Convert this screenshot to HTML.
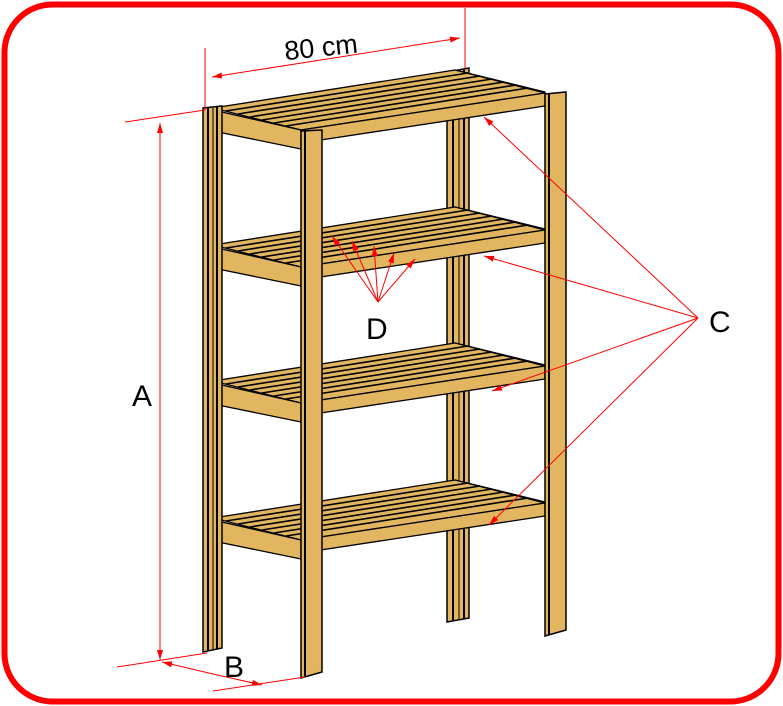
<!DOCTYPE html>
<html><head><meta charset="utf-8"><style>
html,body{margin:0;padding:0;background:#fff;width:783px;height:706px;overflow:hidden}
svg{display:block}
text{font-family:"Liberation Sans",Arial,sans-serif;fill:#000}
</style></head><body>
<svg width="783" height="706" viewBox="0 0 783 706" xmlns="http://www.w3.org/2000/svg">
<defs>
<marker id="ar" viewBox="0 0 10 6" refX="10" refY="3" markerWidth="12" markerHeight="6" orient="auto" markerUnits="userSpaceOnUse">
<path d="M0,0 L10,3 L0,6 z" fill="#f00"/></marker>
<g id="shelf" stroke="#000" stroke-width="1.3" stroke-linejoin="round">
  <polygon points="455,70 545,92 545,106 455,84" fill="#E2B660"/>
  <polygon points="213,108 455,70 545,93 301,130" fill="#E2B660"/>
  <g stroke-width="1.6">
    <line x1="226" y1="111" x2="468" y2="73"/>
    <line x1="238" y1="114" x2="480" y2="76"/>
    <line x1="250" y1="117" x2="492" y2="79"/>
    <line x1="262" y1="120" x2="504" y2="82"/>
    <line x1="274" y1="123" x2="516" y2="85"/>
    <line x1="286" y1="126" x2="528" y2="88"/>
  </g>
  <polygon points="301,130 545,93 545,106 301,143" fill="#E2B660"/>
  <polygon points="213,110 301,130 301,149 213,131" fill="#E2B660"/>
</g>
</defs>

<g stroke="#000" stroke-width="1.5" fill="#E2B660">
  <polygon points="447,72 469,68 469,618 447,622"/>
  <line x1="453" y1="72" x2="453" y2="620" stroke-width="2"/>
  <line x1="459" y1="71" x2="459" y2="620" stroke-width="1"/>
  <line x1="464" y1="70" x2="464" y2="619" stroke-width="2"/>
</g>

<use href="#shelf"/>
<use href="#shelf" transform="translate(0,137)"/>
<use href="#shelf" transform="translate(0,273)"/>
<use href="#shelf" transform="translate(0,410)"/>

<g stroke="#000" stroke-width="1.5" fill="#E2B660">
  <polygon points="203,108 222,106 222,648 203,652"/>
  <line x1="208" y1="108" x2="208" y2="650" stroke-width="2"/>
  <line x1="213" y1="108" x2="213" y2="650" stroke-width="1"/>
  <line x1="217" y1="107" x2="217" y2="649" stroke-width="2"/>
  <polygon points="301,131 322,130 322,672 301,678"/>
  <line x1="305" y1="131" x2="305" y2="677" stroke-width="2"/>
  <polygon points="545,94 566,92 566,630 545,636"/>
  <line x1="549" y1="94" x2="549" y2="635" stroke-width="2"/>
</g>

<g stroke="#f00" stroke-width="1" fill="none">
  <line x1="205" y1="48" x2="205" y2="110"/>
  <line x1="465" y1="8" x2="465" y2="68"/>
  <line x1="340" y1="57" x2="212" y2="77" marker-end="url(#ar)"/>
  <line x1="340" y1="57" x2="460" y2="38" marker-end="url(#ar)"/>
  <line x1="125" y1="122" x2="205" y2="110"/>
  <line x1="117" y1="667" x2="207" y2="653"/>
  <line x1="160" y1="390" x2="160" y2="123" marker-end="url(#ar)"/>
  <line x1="160" y1="390" x2="160" y2="660" marker-end="url(#ar)"/>
  <line x1="213" y1="674" x2="162" y2="662" marker-end="url(#ar)"/>
  <line x1="213" y1="674" x2="262" y2="685" marker-end="url(#ar)"/>
  <line x1="213" y1="691" x2="305" y2="677"/>
  <line x1="698" y1="318" x2="484" y2="117" marker-end="url(#ar)"/>
  <line x1="698" y1="318" x2="484" y2="256" marker-end="url(#ar)"/>
  <line x1="698" y1="318" x2="492" y2="391" marker-end="url(#ar)"/>
  <line x1="698" y1="318" x2="489" y2="525" marker-end="url(#ar)"/>
  <line x1="378" y1="302" x2="332" y2="236" marker-end="url(#ar)"/>
  <line x1="378" y1="302" x2="352" y2="241" marker-end="url(#ar)"/>
  <line x1="378" y1="302" x2="374" y2="246" marker-end="url(#ar)"/>
  <line x1="378" y1="302" x2="394" y2="253" marker-end="url(#ar)"/>
  <line x1="378" y1="302" x2="415" y2="259" marker-end="url(#ar)"/>
</g>

<text x="284" y="56" font-size="27" transform="rotate(-6 325 45)">80 cm</text>
<text x="132" y="406" font-size="30">A</text>
<text x="224" y="677" font-size="30">B</text>
<text x="709" y="332" font-size="30">C</text>
<text x="366" y="339" font-size="30">D</text>

<rect x="4.5" y="4.5" width="774" height="697" rx="48" ry="48" fill="none" stroke="#f00" stroke-width="6"/>
</svg>
</body></html>
